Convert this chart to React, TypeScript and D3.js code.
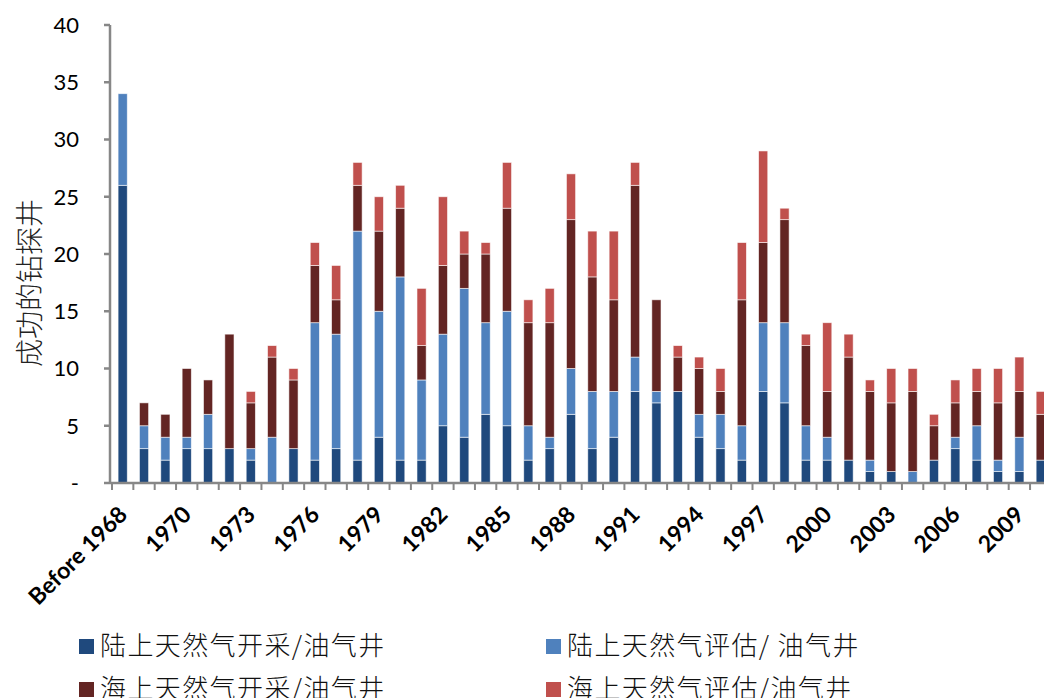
import React from "react";
import * as d3 from "d3";

const categories: string[] = ["Before 1968", ...d3.range(1968, 2011).map(String)];

const onshoreDev: number[] = [26, 3, 2, 3, 3, 3, 2, 0, 3, 2, 3, 2, 4, 2, 2, 5, 4, 6, 5, 2, 3, 6, 3, 4, 8, 7, 8, 4, 3, 2, 8, 7, 2, 2, 2, 1, 1, 0, 2, 3, 2, 1, 1, 2];
const onshoreApp: number[] = [8, 2, 2, 1, 3, 0, 1, 4, 0, 12, 10, 20, 11, 16, 7, 8, 13, 8, 10, 3, 1, 4, 5, 4, 3, 1, 0, 2, 3, 3, 6, 7, 3, 2, 0, 1, 0, 1, 0, 1, 3, 1, 3, 0];
const offshoreDev: number[] = [0, 2, 2, 6, 3, 10, 4, 7, 6, 5, 3, 4, 7, 6, 3, 6, 3, 6, 9, 9, 10, 13, 10, 8, 15, 8, 3, 4, 2, 11, 7, 9, 7, 4, 9, 6, 6, 7, 3, 3, 3, 5, 4, 4];
const offshoreApp: number[] = [0, 0, 0, 0, 0, 0, 1, 1, 1, 2, 3, 2, 3, 2, 5, 6, 2, 1, 4, 2, 3, 4, 4, 6, 2, 0, 1, 1, 2, 5, 8, 1, 1, 6, 2, 1, 3, 2, 1, 2, 2, 3, 3, 2];

const seriesNames: string[] = [
  "陆上天然气开采/油气井",
  "陆上天然气评估/ 油气井",
  "海上天然气开采/油气井",
  "海上天然气评估/油气井",
];
const colors: string[] = ["#1F497D", "#4F81BD", "#632523", "#C0504D"];
const yTicks: number[] = [0, 5, 10, 15, 20, 25, 30, 35, 40];
const xLabelEvery = 3;

const W = 1044;
const H = 698;
const left = 112;
const bandW = 21.35;
const top = 25;
const bottom = 483;

export default function App() {
  const x = d3
    .scaleBand<string>()
    .domain(categories)
    .range([left, left + bandW * categories.length])
    .paddingInner(0.57)
    .paddingOuter(0.285);
  const y = d3.scaleLinear().domain([0, 40]).range([bottom, top]);

  const keys = ["a", "b", "c", "d"];
  const rows = categories.map((c, i) => ({
    cat: c,
    a: onshoreDev[i],
    b: onshoreApp[i],
    c: offshoreDev[i],
    d: offshoreApp[i],
  }));
  const stacked = d3.stack<any>().keys(keys)(rows);

  const axisColor = "#878787";
  const numFont = "Lato, 'Open Sans', sans-serif";
  const cjkFont = "'Noto Sans CJK SC', sans-serif";

  const boundaries = d3.range(categories.length + 1).map((i) => left + i * bandW);

  return (
    <svg
      width={W}
      height={H}
      style={{ position: "absolute", left: 0, top: 0, background: "#fff" }}
    >
      {/* bars */}
      {stacked.map((s, si) => (
        <g key={si} fill={colors[si]}>
          {s.map((d, i) => {
            const h = y(d[0]) - y(d[1]);
            if (h <= 0) return null;
            return (
              <rect
                key={i}
                x={x(categories[i])!}
                y={y(d[1])}
                width={x.bandwidth()}
                height={h}
                stroke="#ffffff"
                strokeOpacity={0.7}
                strokeWidth={0.8}
              />
            );
          })}
        </g>
      ))}

      {/* y axis */}
      <line x1={110} x2={110} y1={top} y2={bottom} stroke={axisColor} strokeWidth={2.5} />
      {yTicks.map((t) => (
        <g key={t}>
          <line x1={104} x2={110} y1={y(t)} y2={y(t)} stroke={axisColor} strokeWidth={2.5} />
          <text
            x={79}
            y={y(t)}
            dy="0.36em"
            textAnchor="end"
            fontFamily={numFont}
            fontSize={22}
            fill="#000"
          >
            {t === 0 ? "-" : t}
          </text>
        </g>
      ))}

      {/* x axis */}
      <line x1={110} x2={W} y1={bottom} y2={bottom} stroke={axisColor} strokeWidth={2.5} />
      {boundaries.map((bx, i) => (
        <line key={i} x1={bx} x2={bx} y1={bottom} y2={bottom + 7} stroke={axisColor} strokeWidth={2} />
      ))}
      {categories.map((c, i) =>
        i % xLabelEvery === 0 ? (
          <text
            key={c}
            transform={`translate(${x(c)! + x.bandwidth() / 2 + 6},${bottom + 33}) rotate(-45)`}
            textAnchor="end"
            fontFamily={numFont}
            fontWeight={700}
            fontSize={23}
            fill="#000"
          >
            {c}
          </text>
        ) : null
      )}

      {/* y title */}
      <text
        transform={`translate(40,283) rotate(-90)`}
        textAnchor="middle"
        fontFamily={cjkFont}
        fontWeight={300}
        fontSize={28}
        fill="#222"
      >
        成功的钻探井
      </text>

      {/* legend */}
      {seriesNames.map((name, i) => {
        const col = i % 2;
        const row = i < 2 ? 0 : 1;
        const lx = col === 0 ? 79 : 546;
        const ly = row === 0 ? 646 : 689;
        return (
          <g key={name}>
            <rect x={lx} y={ly - 7} width={15} height={15} fill={colors[i]} />
            <text
              x={lx + 21}
              y={ly}
              dy="0.36em"
              fontFamily={cjkFont}
              fontWeight={300}
              fontSize={26}
              letterSpacing={1.4}
              fill="#111"
            >
              {name}
            </text>
          </g>
        );
      })}
    </svg>
  );
}
